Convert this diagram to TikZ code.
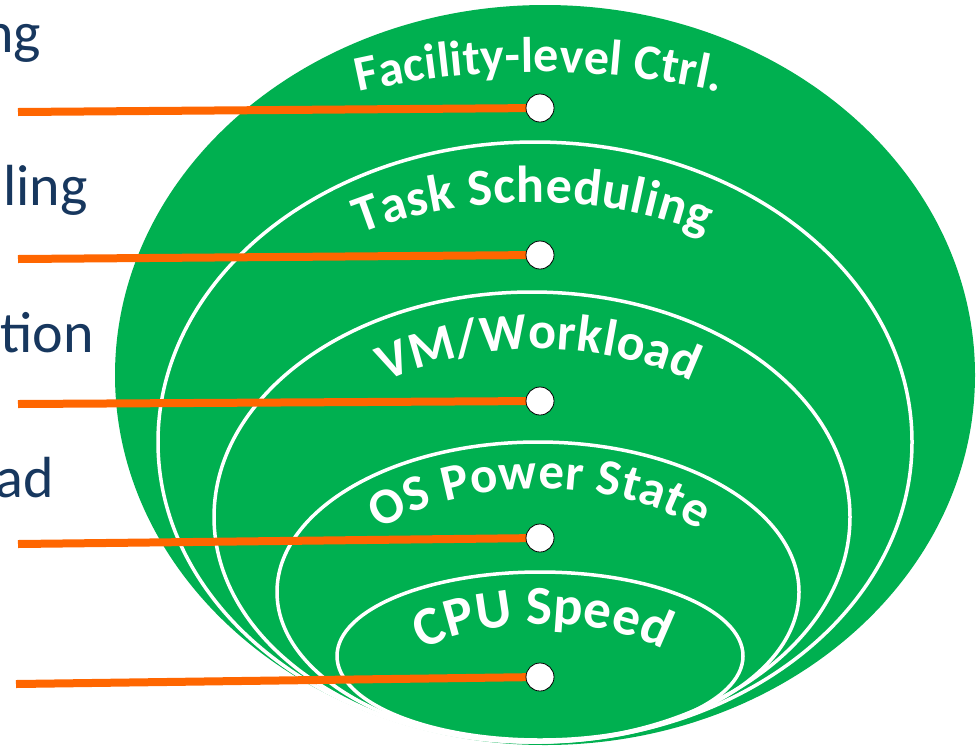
\documentclass[tikz,border=0pt]{standalone}
\usepackage{fontspec}
\setmainfont{Carlito}
\usetikzlibrary{decorations.text}
\definecolor{ringgreen}{RGB}{0,176,80}
\definecolor{lineorange}{RGB}{255,102,0}
\definecolor{labelblue}{RGB}{23,55,94}
\tikzset{
  ringline/.style={draw=white, line width=3.5pt},
  connector/.style={draw=lineorange, line width=8pt},
  dotnode/.style={circle, fill=white, draw=black, line width=0.8pt, minimum size=28pt, inner sep=0pt},
  sidelabel/.style={anchor=base east, inner sep=0pt, text=labelblue, font=\fontsize{58}{58}\selectfont},
  archlabel/.style 2 args={decorate, decoration={text along path, text align={fit to path}, text color=white, text={|\bfseries\fontsize{#1}{#1}\selectfont|#2}}}
}
\begin{document}
\begin{tikzpicture}[x=1pt,y=-1pt]
\useasboundingbox (0,0) rectangle (976,745);
\clip (0,0) rectangle (976,745);

% nested ellipses
\fill[ringgreen] (545,375) ellipse [x radius=430, y radius=370];
\draw[ringline] (535,442) ellipse [x radius=377, y radius=300];
\draw[ringline] (532,517) ellipse [x radius=318, y radius=225];
\draw[ringline] (538,592) ellipse [x radius=261, y radius=150];
\draw[ringline] (540,656) ellipse [x radius=203, y radius=84];

% side texts (cut off at the left edge)
\node[sidelabel] (t1) at (41,52) {ng};
\node[sidelabel] (t2) at (88,205) {ling};
\node[sidelabel] (t3) at (94,352) {tion};
\node[sidelabel] (t4) at (54,497) {ad};

% connector ends
\coordinate (l1) at (18,112);
\coordinate (l2) at (18,259);
\coordinate (l3) at (18,404);
\coordinate (l4) at (18,544);
\coordinate (l5) at (16,684);
\coordinate (p1) at (540,108);
\coordinate (p2) at (540,255);
\coordinate (p3) at (540,401);
\coordinate (p4) at (540,538);
\coordinate (p5) at (540,677);

\draw[connector] (l1) -- (p1);
\draw[connector] (l2) -- (p2);
\draw[connector] (l3) -- (p3);
\draw[connector] (l4) -- (p4);
\draw[connector] (l5) -- (p5);

\node[dotnode] (d1) at (p1) {};
\node[dotnode] (d2) at (p2) {};
\node[dotnode] (d3) at (p3) {};
\node[dotnode] (d4) at (p4) {};
\node[dotnode] (d5) at (p5) {};

% arched labels
\path[archlabel={50}{Facility-level Ctrl.}] ([shift={(249:504 and 300)}]539,372) arc[start angle=249, end angle=291, x radius=504, y radius=300];
\path[archlabel={52}{Task Scheduling}] ([shift={(240.7:353 and 250)}]533,452) arc[start angle=240.7, end angle=299.3, x radius=353, y radius=250];
\path[archlabel={52}{VM/Workload}] ([shift={(236.6:278 and 200)}]539,549) arc[start angle=236.6, end angle=303.4, x radius=278, y radius=200];
\path[archlabel={51}{OS Power State}] ([shift={(218.8:205 and 110)}]540,599) arc[start angle=218.8, end angle=321.2, x radius=205, y radius=110];
\path[archlabel={55}{CPU Speed}] ([shift={(220.7:158 and 75)}]543,699) arc[start angle=220.7, end angle=319.3, x radius=158, y radius=75];
\end{tikzpicture}
\end{document}
